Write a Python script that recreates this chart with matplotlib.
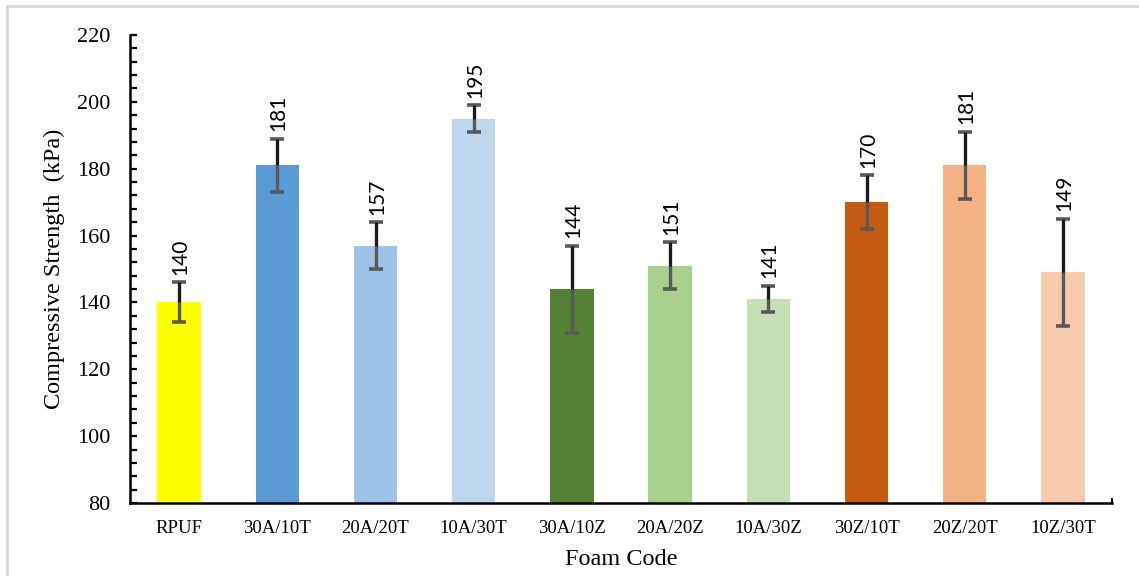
import matplotlib
matplotlib.use("Agg")
import matplotlib.pyplot as plt
from matplotlib.lines import Line2D
from matplotlib.ticker import MultipleLocator

# Foam formulations and their compressive strength (mean ± deviation), kPa
foam_codes = ["RPUF", "30A/10T", "20A/20T", "10A/30T", "30A/10Z",
              "20A/20Z", "10A/30Z", "30Z/10T", "20Z/20T", "10Z/30T"]
strength = [140, 181, 157, 195, 144, 151, 141, 170, 181, 149]
deviation = [6, 8, 7, 4, 13, 7, 4, 8, 10, 16]
bar_colors = ["#FFFF00", "#5B9BD5", "#9DC3E6", "#BDD7EE", "#548235",
              "#A9D18E", "#C5E0B4", "#C55A11", "#F4B183", "#F8CBAD"]
y_ticks = [80, 100, 120, 140, 160, 180, 200, 220]

serif = "Liberation Serif"
label_font = "Lato"

fig = plt.figure(figsize=(11.39, 5.76), dpi=100)
ax = fig.add_axes([130 / 1139, 1 - 503 / 576, 982 / 1139, 468 / 576])

x = list(range(len(foam_codes)))
ax.bar(x, [s - 80 for s in strength], bottom=80, width=0.44,
       color=bar_colors, zorder=2)

# error bars: grey caps and lower stem, darker upper stem
ax.errorbar(x, strength, yerr=deviation, fmt="none", ecolor="#595959",
            elinewidth=2.4, capsize=4.8, capthick=2.6, zorder=3)
ax.vlines(x, strength, [s + d for s, d in zip(strength, deviation)],
          color="#1a1a1a", linewidth=2.2, zorder=4)

for xi, s, d in zip(x, strength, deviation):
    ax.annotate(f"{s}", xy=(xi, s + d), xytext=(1, 5.5),
                textcoords="offset points", rotation=90,
                ha="center", va="bottom", fontsize=15,
                family=label_font, color="black", zorder=5)

ax.set_xlim(-0.5, len(foam_codes) - 0.5)
ax.set_ylim(80, 220)
ax.set_yticks(y_ticks)
ax.yaxis.set_minor_locator(MultipleLocator(4))
ax.set_xticks(x)
ax.set_xticklabels(foam_codes, family=serif, fontsize=13.5)
for lab in ax.get_yticklabels():
    lab.set_family(serif)
    lab.set_fontsize(16)

for side in ("top", "right"):
    ax.spines[side].set_visible(False)
for side in ("left", "bottom"):
    ax.spines[side].set_linewidth(1.8)
    ax.spines[side].set_color("black")

ax.tick_params(axis="y", which="both", direction="in", length=5,
               width=1.6, pad=14)
ax.tick_params(axis="x", which="major", direction="in", length=4,
               width=1.4, pad=12)

ax.set_ylabel("Compressive Strength  (kPa)", family=serif, fontsize=17.5,
              labelpad=9)
ax.set_xlabel("Foam Code", family=serif, fontsize=17.5, labelpad=9)

# small closing tick at the right end of the category axis
ax.plot([len(foam_codes) - 0.5] * 2, [80, 81.2], color="black",
        linewidth=1.4, clip_on=False, zorder=6)

# light frame along the top and left edges of the figure
W, H = 1139, 576
fig.add_artist(Line2D([7 / W, 1], [1 - 6 / H] * 2, color="#d9d9d9",
                      linewidth=2, transform=fig.transFigure))
fig.add_artist(Line2D([7 / W] * 2, [0, 1 - 6 / H], color="#d9d9d9",
                      linewidth=2, transform=fig.transFigure))

fig.savefig("out.png", dpi=100)
